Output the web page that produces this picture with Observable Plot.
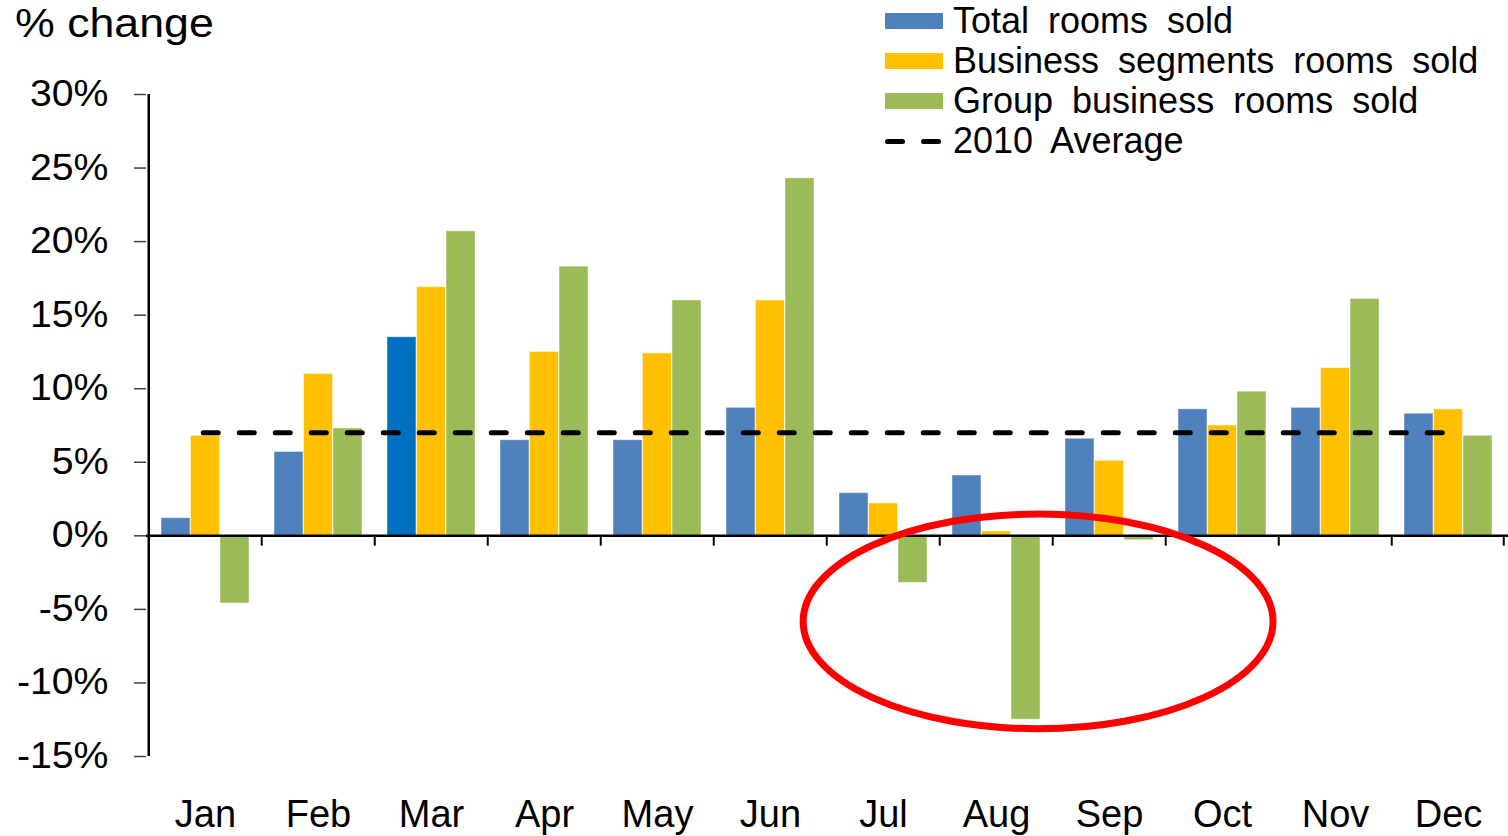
<!DOCTYPE html>
<html>
<head>
<meta charset="utf-8">
<script src="https://cdn.jsdelivr.net/npm/d3@7"></script>
<script src="https://cdn.jsdelivr.net/npm/@observablehq/plot@0.6"></script>
<style>
  body { margin: 0; background: #fff; font-family: "Liberation Sans", Arial, sans-serif; }
  #wrap { position: relative; width: 1508px; height: 836px; overflow: hidden; }
  #chart svg { display: block; }
  #title { position: absolute; left: 15px; top: 3px; font-size: 41px; line-height: 1; color: #000;
           transform: scaleX(1.09); transform-origin: left center; white-space: nowrap; }
  #legend { position: absolute; left: 885px; top: 1px; }
  .row { display: flex; align-items: center; height: 40px; font-size: 36px; word-spacing: 9px; color: #000; white-space: nowrap; }
  .sw { width: 58px; height: 16px; margin-right: 10px; flex: none; }
  .dash { width: 58px; height: 5px; margin-right: 10px; flex: none; position: relative; }
  .dash i { position: absolute; top: 0; width: 20px; height: 5px; border-radius: 2.5px; background: #000; }
</style>
</head>
<body>
<div id="wrap">
  <div id="chart"></div>
  <div id="title">% change</div>
  <div id="legend"></div>
</div>
<script>
// ---- data ----
const months = ["Jan","Feb","Mar","Apr","May","Jun","Jul","Aug","Sep","Oct","Nov","Dec"];
const seriesNames = ["Total rooms sold", "Business segments rooms sold", "Group business rooms sold"];
const totalRooms    = [1.2, 5.7, 13.5, 6.5, 6.5, 8.7, 2.9, 4.1, 6.6, 8.6, 8.7, 8.3];
const businessRooms = [6.8, 11.0, 16.9, 12.5, 12.4, 16.0, 2.2, 0.3, 5.1, 7.5, 11.4, 8.6];
const groupRooms    = [-4.6, 7.3, 20.7, 18.3, 16.0, 24.3, -3.2, -12.5, -0.3, 9.8, 16.1, 6.8];
const averageLabel = "2010 Average";
const average2010 = 7.0;
const highlightMonth = "Mar";
const yTicks = [-15, -10, -5, 0, 5, 10, 15, 20, 25, 30];
// annotation ellipse (in month / percent units)
const ringMonth = "Aug";
const ringOffsetMonths = 0.36;
const ringCenterPct = -5.85;
const ringRadiusMonths = 2.07;
const ringRadiusPct = 7.3;

// ---- styles ----
const seriesColors = ["#4F81BD", "#FFC000", "#9BBB59"];
const highlightColor = "#0070C0";

const W = 1508, H = 836, ML = 146, MR = 0, MT = 94, MB = 80;
const padInner = 0.22;
const step = (W - ML - MR) / months.length;
const bw = step * (1 - padInner);
const third = bw / 3;

const seriesValues = [totalRooms, businessRooms, groupRooms];
const rows = seriesValues.map((vals, s) => months.map((m, i) => ({month: m, value: vals[i], s})));

const barMarks = rows.map((data, s) => Plot.barY(data, {
  x: "month",
  y1: () => 0,
  y2: "value",
  fill: d => (s === 0 && d.month === highlightMonth) ? highlightColor : seriesColors[s],
  stroke: "#ffffff",
  strokeOpacity: 0.45,
  strokeWidth: 1,
  insetLeft: s * third,
  insetRight: (2 - s) * third
}));

const plot = Plot.plot({
  width: W,
  height: H,
  marginLeft: ML,
  marginRight: MR,
  marginTop: MT,
  marginBottom: MB,
  style: {fontFamily: "Liberation Sans, Arial, sans-serif", color: "#000", background: "#fff"},
  x: {domain: months, paddingInner: padInner, paddingOuter: padInner / 2, align: 0.5, label: null, axis: null},
  y: {domain: [-15, 30], label: null, axis: null},
  marks: [
    ...barMarks,
    Plot.axisY({ticks: yTicks, tickFormat: d => d + "%", tickSize: 12, tickPadding: 26, fontSize: 36,
                stroke: "#404040", strokeWidth: 1.5, fill: "#000", label: null}),
    Plot.axisX({tickSize: 0, tickPadding: 44, fontSize: 38, fill: "#000", label: null}),
    Plot.ruleX([months[0]], {x: d => d, y1: () => -15, y2: () => 30, dx: -step / 2, stroke: "#000", strokeWidth: 2.5}),
    Plot.ruleY([0], {stroke: "#000", strokeWidth: 2.5}),
    Plot.ruleX(months.slice(1), {x: d => d, y1: () => 0, y2: () => -0.7, dx: -step / 2, stroke: "#000", strokeWidth: 2}),
    Plot.ruleX([months[months.length - 1]], {x: d => d, y1: () => 0, y2: () => -0.7, dx: step / 2 - 1.5, stroke: "#000", strokeWidth: 2}),
    Plot.ruleY([average2010], {x1: () => months[0], x2: () => months[months.length - 1], y: d => d,
      insetLeft: bw / 2 - 2, insetRight: bw / 2 + 5,
      stroke: "#000", strokeWidth: 5, strokeDasharray: "15,21", strokeLinecap: "round"})
  ]
});

// annotation ellipse, positioned with the plot's own scales
const xs = plot.scale("x"), ys = plot.scale("y");
const band = d3.scaleBand(xs.domain, xs.range).paddingInner(xs.paddingInner).paddingOuter(xs.paddingOuter).align(xs.align);
const yLin = d3.scaleLinear(ys.domain, ys.range);
const cx = band(ringMonth) + band.bandwidth() / 2 + ringOffsetMonths * band.step();
const cy = yLin(ringCenterPct);
d3.select(plot).append("ellipse")
  .attr("cx", cx).attr("cy", cy)
  .attr("rx", ringRadiusMonths * band.step())
  .attr("ry", Math.abs(yLin(ringCenterPct + ringRadiusPct) - cy))
  .attr("fill", "none").attr("stroke", "#FF0000").attr("stroke-width", 7);

document.getElementById("chart").append(plot);

// widen y tick labels slightly (reference text is horizontally stretched)
plot.querySelectorAll('g[aria-label="y-axis tick label"] text').forEach(t => {
  const w = t.getComputedTextLength();
  if (w > 0) {
    t.setAttribute("textLength", (w * 1.09).toFixed(1));
    t.setAttribute("lengthAdjust", "spacingAndGlyphs");
  }
});

// legend
const legend = document.getElementById("legend");
seriesNames.forEach((name, s) => {
  const row = document.createElement("div");
  row.className = "row";
  const sw = document.createElement("div");
  sw.className = "sw";
  sw.style.background = seriesColors[s];
  row.append(sw, document.createTextNode(name));
  legend.append(row);
});
const arow = document.createElement("div");
arow.className = "row";
const dash = document.createElement("div");
dash.className = "dash";
dash.innerHTML = '<i style="left:0"></i><i style="left:36px"></i>';
arow.append(dash, document.createTextNode(averageLabel));
legend.append(arow);
</script>
</body>
</html>
